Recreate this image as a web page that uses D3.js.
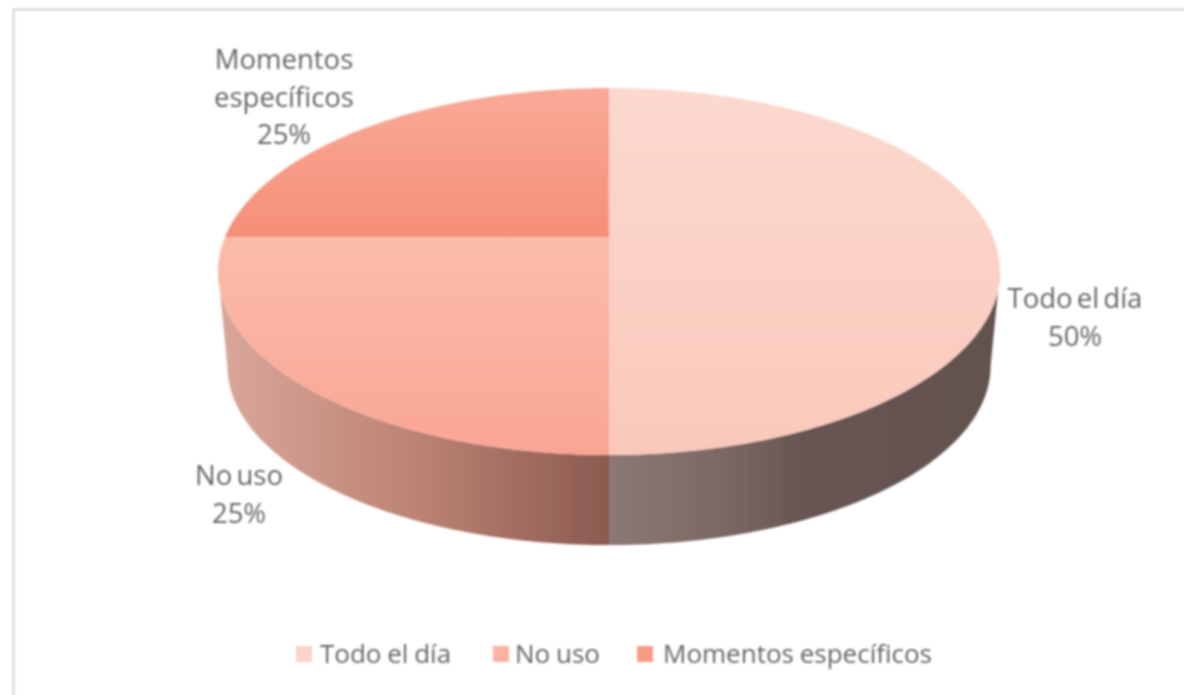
<!DOCTYPE html>
<html lang='en'>
<head>
	<meta charset='utf-8'>
	<script src='https://d3js.org/d3.v7.min.js'></script>
	<style>
		html, body { margin:0; padding:0; background:#fff; overflow:hidden; }
		text { font-family:'Open Sans', sans-serif; fill:#636668; }
		.label { font-size:27.5px; text-anchor:middle; word-spacing:-3px; }
		.legend-text { font-size:26px; word-spacing:-1px; }
	</style>
</head>
<body>
	<div id='chart'></div>
	<script>
		var categories = ['Todo el día', 'No uso', 'Momentos específicos'];
		var values = [50, 25, 25];

		var width = 1184, height = 695;

		//top gradient and side gradient for each slice
		var topColors = [['#fcd9cf', '#fac8bb'], ['#fbbcac', '#f9a593'], ['#f9aa98', '#f58f77']];
		var sideColors = [
			[[0, '#8c7874'], [0.3, '#7c6763'], [0.5, '#675553'], [1, '#645250']],
			[[0, '#d9a699'], [0.5, '#bb8373'], [1, '#8b5a50']],
			[[0, '#8b5a50'], [1, '#8b5a50']]
		];
		var legendColors = ['#fcd3c9', '#fbb2a2', '#f79a84'];

		var svg = d3.select('#chart').append('svg')
			.attr('width', width)
			.attr('height', height);

		var defs = svg.append('defs');
		defs.append('filter').attr('id', 'soft')
			.attr('filterUnits', 'userSpaceOnUse')
			.attr('x', 0).attr('y', 0)
			.attr('width', width).attr('height', height)
			.append('feGaussianBlur').attr('stdDeviation', 0.9);

		var root = svg.append('g').attr('filter', 'url(#soft)');

		root.append('rect')
			.attr('x', 13.5).attr('y', 9.5)
			.attr('width', width + 20).attr('height', height + 20)
			.attr('fill', 'none')
			.attr('stroke', '#d2d2d2')
			.attr('stroke-width', 2);

		//perspective: the pie centre sits above the middle of the ellipse
		var cx = 609, cy = 237;
		var persp = -0.188, scaleX = 384, scaleY = 177;
		var midY = 271.5, depthY = 366, shrink = 0.976;

		function topPoint(a) {
			var u = Math.sin(a), v = -Math.cos(a), w = 1 + persp * v;
			return [cx + scaleX * u / w, cy + scaleY * v / w];
		}
		function bottomPoint(a) {
			var p = topPoint(a);
			return [cx + (p[0] - cx) * shrink, depthY + (p[1] - midY) * shrink];
		}
		function sample(a0, a1, fn) {
			var n = Math.max(2, Math.ceil((a1 - a0) * 60));
			return d3.range(n + 1).map(function(i) { return fn(a0 + (a1 - a0) * i / n); });
		}

		var line = d3.line().curve(d3.curveLinear);
		var pie = d3.pie().sort(null).value(function(d) { return d; });
		var slices = pie(values);
		var total = d3.sum(values);
		var formatPct = d3.format('.0%');

		//side wall is visible between the two widest points of the ellipse
		var sideStart = Math.acos(persp), sideEnd = 2 * Math.PI - sideStart;

		var sides = slices.filter(function(d) {
			return Math.max(d.startAngle, sideStart) < Math.min(d.endAngle, sideEnd);
		});

		sides.forEach(function(d) {
			var a0 = Math.max(d.startAngle, sideStart), a1 = Math.min(d.endAngle, sideEnd);
			var grad = defs.append('linearGradient')
				.attr('id', 'side' + d.index)
				.attr('gradientUnits', 'userSpaceOnUse')
				.attr('x1', d.index == 0 ? cx : 224).attr('x2', d.index == 0 ? 999 : cx)
				.attr('y1', 0).attr('y2', 0);
			sideColors[d.index].forEach(function(s) {
				grad.append('stop').attr('offset', s[0]).attr('stop-color', s[1]);
			});
			var pts = sample(a0, a1, topPoint).concat(sample(a0, a1, bottomPoint).reverse());
			root.append('path')
				.attr('d', line(pts) + 'Z')
				.attr('fill', 'url(#side' + d.index + ')');
		});

		slices.forEach(function(d) {
			var grad = defs.append('linearGradient')
				.attr('id', 'top' + d.index)
				.attr('gradientUnits', 'userSpaceOnUse')
				.attr('x1', 0).attr('x2', 0);
			//gradient runs over the height of this slice
			var ys = sample(d.startAngle, d.endAngle, topPoint).map(function(p) { return p[1]; }).concat([cy]);
			grad.attr('y1', d3.min(ys)).attr('y2', d3.max(ys));
			topColors[d.index].forEach(function(c, i) {
				grad.append('stop').attr('offset', i).attr('stop-color', c);
			});
			var pts = [[cx, cy]].concat(sample(d.startAngle, d.endAngle, topPoint));
			root.append('path')
				.attr('d', line(pts) + 'Z')
				.attr('fill', 'url(#top' + d.index + ')');
		});

		//data labels
		var labelLines = [[categories[0]], [categories[1]], ['Momentos', 'específicos']];
		var labelPos = [[1075, 308], [239, 485], [284, 69]];
		var lineGap = 37.5;

		slices.forEach(function(d) {
			var rows = labelLines[d.index].concat([formatPct(d.value / total)]);
			root.selectAll(null)
				.data(rows)
				.enter()
				.append('text')
				.attr('class', 'label')
				.attr('x', labelPos[d.index][0])
				.attr('y', function(r, i) { return labelPos[d.index][1] + i * lineGap; })
				.text(function(r) { return r; });
		});

		//legend
		var legendX = [296, 493, 637];
		var legend = root.selectAll('.legend-item')
			.data(categories)
			.enter()
			.append('g')
			.attr('class', 'legend-item')
			.attr('transform', function(d, i) { return 'translate(' + legendX[i] + ',646)'; });
		legend.append('rect')
			.attr('width', 16)
			.attr('height', 16)
			.attr('fill', function(d, i) { return legendColors[i]; });
		legend.append('text')
			.attr('class', 'legend-text')
			.attr('x', function(d, i) { return [24, 22, 26][i]; })
			.attr('y', 17)
			.text(function(d) { return d; });
	</script>
</body>
</html>
